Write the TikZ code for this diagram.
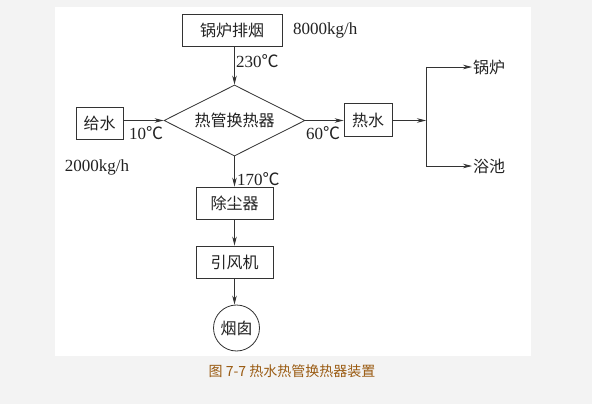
\documentclass[tikz,border=0pt]{standalone}
\usepackage{fontspec}
\setmainfont{Liberation Serif}
\newfontfamily\cjk{Noto Sans CJK SC}
\usetikzlibrary{shapes.geometric,arrows.meta}
\definecolor{bgcol}{HTML}{F3F3F3}
\definecolor{linecol}{HTML}{333333}
\definecolor{textcol}{HTML}{222222}
\definecolor{capcol}{HTML}{9A5B12}
\begin{document}
\begin{tikzpicture}[x=1pt,y=-1pt,
  box/.style={draw=linecol, line width=0.8pt, inner sep=0pt, text=textcol,
    font=\cjk\fontsize{16}{16}\selectfont},
  dia/.style={diamond, aspect=2, draw=linecol, line width=0.8pt, inner sep=0pt,
    minimum width=141pt, minimum height=71pt, text=textcol,
    font=\cjk\fontsize{16}{16}\selectfont},
  circ/.style={circle, draw=linecol, line width=0.8pt, inner sep=0pt,
    minimum size=46pt, text=textcol, font=\cjk\fontsize{16}{16}\selectfont},
  lbl/.style={inner sep=0pt, text=textcol, font=\fontsize{17}{17}\selectfont},
  clbl/.style={inner sep=0pt, text=textcol, font=\cjk\fontsize{16}{16}\selectfont},
  conn/.style={draw=linecol, line width=0.8pt},
  arr/.style={conn, -{Stealth[length=9pt,width=4.5pt]}}]
\fill[bgcol] (0,0) rectangle (592,404);
\useasboundingbox (0,0) rectangle (592,404);
\fill[white] (55,7) rectangle (531,356);

\node[box, minimum width=100pt, minimum height=32pt] (yan) at (232,30) {锅炉排烟};
\node[lbl, anchor=west] (m1) at (293,30) {8000kg/h};
\node[dia] (hx) at (234.5,120.5) {热管换热器};
\node[box, minimum width=47pt, minimum height=32pt] (gs) at (99.5,123) {给水};
\node[lbl] (m2) at (97,167) {2000kg/h};
\node[box, minimum width=48pt, minimum height=33pt] (rs) at (368,120) {热水};
\node[box, minimum width=77pt, minimum height=32pt] (cc) at (234.5,203) {除尘器};
\node[box, minimum width=77pt, minimum height=32pt] (yf) at (234.5,262) {引风机};
\node[circ] (yc) at (236.5,328) {烟囱};

\coordinate (j) at (426,120.5);
\coordinate (jt) at (426,67);
\coordinate (jb) at (426,166);
\node[clbl, anchor=west] (gl) at (473,67) {锅炉};
\node[clbl, anchor=west] (yuchi) at (473,166) {浴池};

\node[lbl, anchor=west] (t230) at (236,61) {230{\cjk ℃}};
\node[lbl, anchor=west] (t10) at (129,133) {10{\cjk ℃}};
\node[lbl, anchor=west] (t60) at (306,133) {60{\cjk ℃}};
\node[lbl, anchor=west] (t170) at (237,179) {170{\cjk ℃}};

\draw[arr] (yan.south -| hx.north) -- (hx.north);
\draw[arr] (gs.east |- hx.west) -- (hx.west);
\draw[arr] (hx.east) -- (rs.west |- hx.east);
\draw[arr] (rs.east |- j) -- (j);
\draw[conn] (jt) -- (jb);
\draw[arr, shorten >=1pt] (jt) -- (gl.west);
\draw[arr, shorten >=1pt] (jb) -- (yuchi.west);
\draw[arr] (hx.south) -- (cc.north);
\draw[arr] (cc.south) -- (yf.north);
\draw[arr] (yf.south) -- (yc.north -| yf.south);

\node[inner sep=0pt, text=capcol, font=\cjk\fontsize{14}{14}\selectfont] (cap) at (292,371) {图 7-7 热水热管换热器装置};
\end{tikzpicture}
\end{document}
